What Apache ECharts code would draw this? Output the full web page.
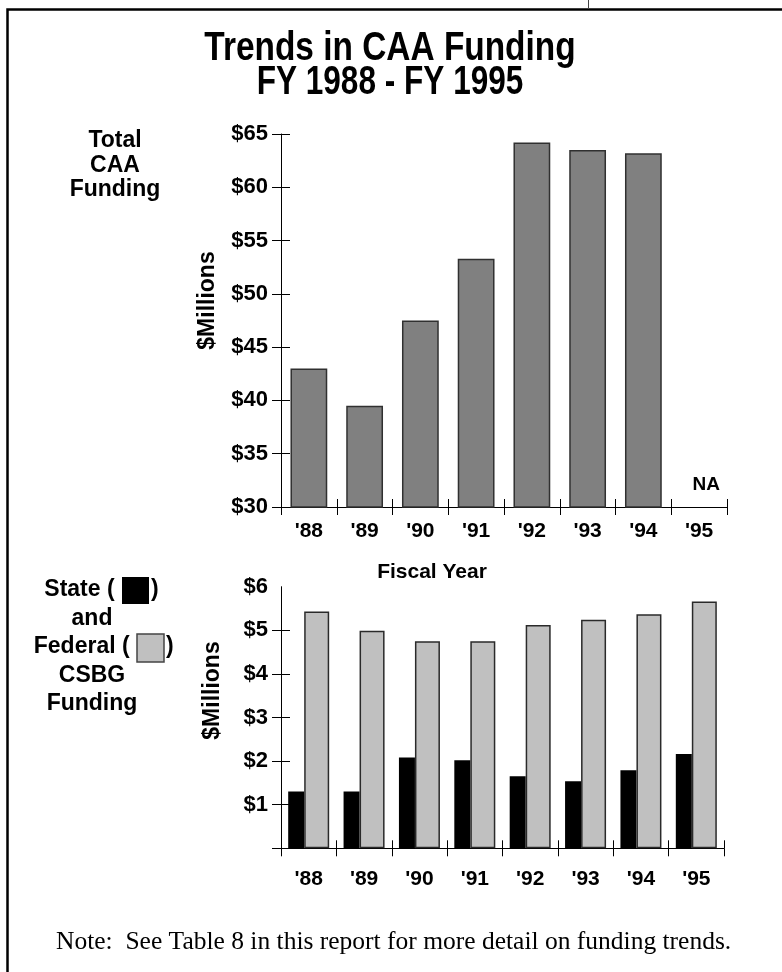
<!DOCTYPE html>
<html>
<head>
<meta charset="utf-8">
<script src="https://cdn.jsdelivr.net/npm/echarts@6/dist/echarts.min.js"></script>
<style>
html,body{margin:0;padding:0;background:#fff;}
#chart{width:782px;height:972px;}
</style>
</head>
<body>
<div id="chart"></div>
<script>
// ---- data ----
var years = ["'88", "'89", "'90", "'91", "'92", "'93", "'94", "'95"];
var totalFunding = [43.0, 39.5, 47.5, 53.3, 64.2, 63.5, 63.2, null]; // $ millions, '95 not available
var naLabel = "NA";
var stateCSBG = [1.30, 1.30, 2.08, 2.02, 1.65, 1.54, 1.79, 2.16];
var federalCSBG = [5.43, 4.99, 4.75, 4.75, 5.12, 5.24, 5.37, 5.66];
var topTicks = [30, 35, 40, 45, 50, 55, 60, 65];
var bottomLabelValues = [1, 2, 3, 4, 5, 6];
var bottomTickValues = [0, 1, 2, 3, 4, 5];

var SANS = '"Liberation Sans", Arial, sans-serif';
var SERIF = '"Liberation Serif", "Times New Roman", serif';

var chart = echarts.init(document.getElementById('chart'), null, {renderer: 'canvas'});

function money(v) { return '$' + v; }

var axisLabelStyle = {fontFamily: SANS, fontWeight: 'bold', fontSize: 22, color: '#000'};
var nameStyle = {fontFamily: SANS, fontWeight: 'bold', fontSize: 23, color: '#000'};

function txt(x, y, s, size, align, extra) {
  var el = {type: 'text', x: x, y: y, silent: true,
    style: {text: s, font: 'bold ' + size + 'px ' + SANS, fill: '#000', textAlign: align || 'center', textVerticalAlign: 'middle'}};
  if (extra) { for (var k in extra) el[k] = extra[k]; }
  return el;
}

var option = {
  backgroundColor: '#fff',
  animation: false,
  grid: [
    {left: 281, top: 134, width: 446, height: 373},
    {left: 281, top: 586.7, width: 443, height: 261.6}
  ],
  xAxis: [
    {gridIndex: 0, type: 'category', data: years, position: 'bottom',
     axisLine: {onZero: false, lineStyle: {color: '#000', width: 1}},
     axisTick: {show: true, length: 8, inside: false, lineStyle: {color: '#000'}},
     axisLabel: Object.assign({margin: 14}, axisLabelStyle, {fontSize: 21})},
    {gridIndex: 0, type: 'category', data: years, position: 'bottom',
     axisLine: {show: false},
     axisTick: {show: true, length: 8, inside: true, lineStyle: {color: '#000'}},
     axisLabel: {show: false}},
    {gridIndex: 1, type: 'category', data: years, position: 'bottom',
     axisLine: {onZero: false, lineStyle: {color: '#000', width: 1}},
     axisTick: {show: true, length: 8, inside: false, lineStyle: {color: '#000'}},
     axisLabel: Object.assign({margin: 20}, axisLabelStyle, {fontSize: 21})},
    {gridIndex: 1, type: 'category', data: years, position: 'bottom',
     axisLine: {show: false},
     axisTick: {show: true, length: 8, inside: true, lineStyle: {color: '#000'}},
     axisLabel: {show: false}}
  ],
  yAxis: [
    {gridIndex: 0, type: 'value', min: topTicks[0], max: topTicks[topTicks.length - 1], interval: 5,
     position: 'left',
     name: '$Millions', nameLocation: 'middle', nameRotate: 90, nameGap: 62,
     nameTextStyle: Object.assign({padding: [0, 0, 0, 40]}, nameStyle),
     splitLine: {show: false},
     axisLine: {show: true, lineStyle: {color: '#000', width: 1}},
     axisTick: {show: true, length: 9, inside: false, lineStyle: {color: '#000'}},
     axisLabel: Object.assign({margin: 13, formatter: money}, axisLabelStyle)},
    {gridIndex: 0, type: 'value', min: topTicks[0], max: topTicks[topTicks.length - 1], interval: 5,
     position: 'left',
     splitLine: {show: false},
     axisLine: {show: false},
     axisTick: {show: true, length: 9, inside: true, lineStyle: {color: '#000'}},
     axisLabel: {show: false}},
    {gridIndex: 1, type: 'value', min: 0, max: 6, interval: 1,
     position: 'left',
     name: '$Millions', nameLocation: 'middle', nameRotate: 90, nameGap: 57,
     nameTextStyle: Object.assign({padding: [0, 0, 0, 54]}, nameStyle),
     splitLine: {show: false},
     axisLine: {show: true, lineStyle: {color: '#000', width: 1}},
     axisTick: {show: true, length: 9, inside: false, customValues: bottomTickValues, lineStyle: {color: '#000'}},
     axisLabel: Object.assign({margin: 13, formatter: money, customValues: bottomLabelValues}, axisLabelStyle)},
    {gridIndex: 1, type: 'value', min: 0, max: 6, interval: 1,
     position: 'left',
     splitLine: {show: false},
     axisLine: {show: false},
     axisTick: {show: true, length: 9, inside: true, customValues: bottomTickValues, lineStyle: {color: '#000'}},
     axisLabel: {show: false}}
  ],
  series: [
    {name: 'Total CAA Funding', type: 'bar', xAxisIndex: 0, yAxisIndex: 0,
     data: totalFunding, barWidth: '66%',
     itemStyle: {color: '#808080', borderColor: '#303030', borderWidth: 1.5},
     markPoint: {
       symbol: 'rect', symbolSize: [1, 1],
       itemStyle: {color: 'rgba(0,0,0,0)'},
       label: {show: true, position: 'top', distance: 12, offset: [7, 0], formatter: naLabel,
               fontFamily: SANS, fontWeight: 'bold', fontSize: 19, color: '#000'},
       data: [{coord: [years[7], topTicks[0]]}]
     }},
    {name: 'State', type: 'bar', xAxisIndex: 2, yAxisIndex: 2,
     data: stateCSBG, barWidth: 16, barGap: '0%',
     itemStyle: {color: '#000'}},
    {name: 'Federal', type: 'bar', xAxisIndex: 2, yAxisIndex: 2,
     data: federalCSBG, barWidth: 25, barGap: '0%',
     itemStyle: {color: '#c0c0c0', borderColor: '#2a2a2a', borderWidth: 1.5}}
  ],
  graphic: [
    // frame
    {type: 'rect', shape: {x: 7.5, y: 9.5, width: 900, height: 1100}, style: {fill: null, stroke: '#000', lineWidth: 2.5}, silent: true},
    {type: 'line', shape: {x1: 588.5, y1: 0, x2: 588.5, y2: 9}, style: {stroke: '#444', lineWidth: 1}, silent: true},
    // main title (condensed look)
    txt(390, 49, 'Trends in CAA Funding', 41, 'center', {scaleX: 0.815}),
    txt(390, 83, 'FY 1988 - FY 1995', 41, 'center', {scaleX: 0.77}),
    // top-left label
    txt(115, 141, 'Total', 23),
    txt(115, 165.5, 'CAA', 23),
    txt(115, 190, 'Funding', 23),
    // Fiscal Year
    txt(432, 572, 'Fiscal Year', 21),
    // bottom-left legend
    txt(121, 590, 'State ( ', 23, 'right'),
    {type: 'rect', shape: {x: 122, y: 577, width: 27, height: 27}, style: {fill: '#000'}, silent: true},
    txt(151, 590, ')', 23, 'left'),
    txt(92, 618.5, 'and', 23),
    txt(136, 647, 'Federal ( ', 23, 'right'),
    {type: 'rect', shape: {x: 137, y: 634, width: 27, height: 28}, style: {fill: '#c0c0c0', stroke: '#444', lineWidth: 1.5}, silent: true},
    txt(166, 647, ')', 23, 'left'),
    txt(92, 675.5, 'CSBG', 23),
    txt(92, 704, 'Funding', 23),
    // note
    {type: 'text', x: 56, y: 942, silent: true, style: {text: 'Note:  See Table 8 in this report for more detail on funding trends.', font: '25.5px ' + SERIF, fill: '#000', textAlign: 'left', textVerticalAlign: 'middle'}}
  ]
};
chart.setOption(option);
</script>
</body>
</html>
